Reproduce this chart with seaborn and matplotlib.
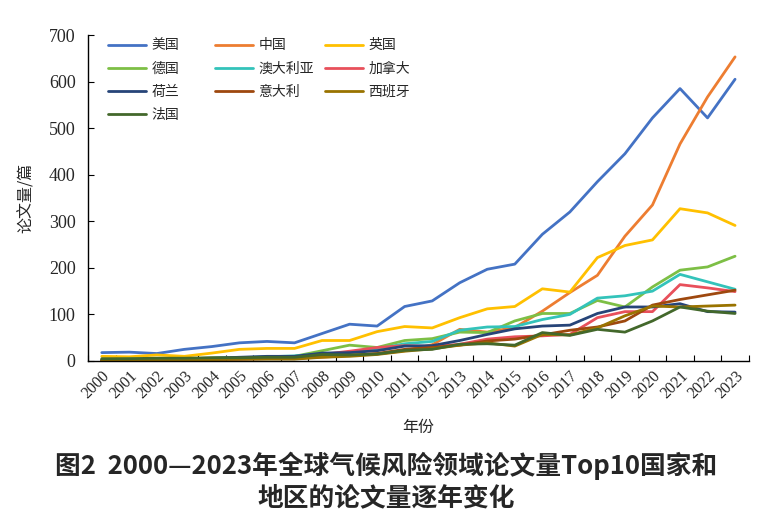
import numpy as np
import pandas as pd
import matplotlib
matplotlib.use("Agg")
import matplotlib.pyplot as plt
from matplotlib.ticker import MultipleLocator, FixedLocator
import seaborn as sns

years = list(range(2000, 2024))

usa = [18, 19, 16, 25, 31, 39, 42, 39, 59, 79, 75, 117, 129, 168, 197, 208, 272, 320, 385, 445, 522, 585, 522, 605]
china = [1, 1, 2, 2, 3, 4, 5, 6, 8, 12, 15, 22, 35, 68, 62, 72, 107, 147, 184, 268, 335, 466, 567, 653]
uk = [10, 9, 13, 10, 17, 25, 27, 27, 44, 44, 63, 74, 71, 93, 112, 117, 155, 148, 222, 248, 260, 327, 318, 291]
germany = [3, 4, 4, 5, 6, 7, 8, 10, 22, 34, 29, 44, 48, 62, 61, 86, 102, 102, 130, 116, 159, 195, 202, 225]
australia = [3, 4, 4, 5, 6, 7, 9, 11, 15, 18, 26, 37, 42, 66, 73, 74, 89, 100, 135, 140, 150, 186, 170, 154]
canada = [2, 3, 3, 4, 5, 6, 7, 8, 14, 21, 29, 33, 31, 36, 47, 52, 54, 57, 93, 106, 106, 164, 157, 149]
netherlands = [2, 3, 3, 5, 6, 8, 10, 10, 17, 18, 22, 32, 33, 44, 57, 69, 75, 77, 102, 116, 116, 123, 106, 105]
italy = [1, 2, 2, 3, 4, 4, 5, 5, 10, 12, 16, 25, 29, 34, 43, 47, 56, 66, 73, 86, 120, 132, 142, 152]
spain = [1, 1, 2, 2, 3, 4, 4, 4, 8, 10, 14, 21, 26, 34, 39, 32, 57, 56, 71, 97, 118, 116, 118, 120]
france = [5, 5, 6, 6, 7, 7, 8, 8, 14, 13, 15, 23, 25, 36, 37, 34, 61, 55, 68, 62, 86, 116, 107, 102]

countries = ["美国", "中国", "英国", "德国", "澳大利亚", "加拿大", "荷兰", "意大利", "西班牙", "法国"]
series = [usa, china, uk, germany, australia, canada, netherlands, italy, spain, france]
colors = ["#4472C4", "#ED7D31", "#FFC000", "#7DBF45", "#33C3BA", "#E8505B",
          "#264478", "#9E480E", "#997300", "#43682B"]

CN = ["Noto Sans CJK SC", "DejaVu Sans"]
SERIF = ["Liberation Serif", "DejaVu Serif"]


def main() -> None:
    sns.set_theme(style="ticks")
    plt.rcParams["font.family"] = CN

    rows = []
    for name, vals in zip(countries, series):
        for y, v in zip(years, vals):
            rows.append({"年份": y, "论文量": v, "国家": name})
    df = pd.DataFrame(rows)

    fig = plt.figure(figsize=(7.72, 5.28), dpi=100)
    ax = fig.add_axes([0.114, 0.3163, 0.856, 0.6174])

    sns.lineplot(data=df, x="年份", y="论文量", hue="国家", hue_order=countries,
                 palette=dict(zip(countries, colors)), linewidth=2.0, ax=ax)

    ax.set_xlim(1999.5, 2023.5)
    ax.set_ylim(0, 700)
    ax.yaxis.set_major_locator(MultipleLocator(100))
    ax.xaxis.set_major_locator(FixedLocator(years))
    ax.xaxis.set_minor_locator(FixedLocator([y + 0.5 for y in range(1999, 2024)]))
    ax.tick_params(axis="x", which="major", length=0, pad=5)
    ax.tick_params(axis="x", which="minor", direction="in", length=4, width=0.8, color="black")
    ax.tick_params(axis="y", direction="in", length=4, width=0.8, color="black", pad=9)
    ax.set_xticks(years)
    ax.set_xticklabels([str(y) for y in years], rotation=45, ha="right",
                       rotation_mode="anchor", family=SERIF, fontsize=11.5)
    for lab in ax.get_yticklabels():
        lab.set_family(SERIF)
        lab.set_fontsize(13)

    for side in ["top", "right"]:
        ax.spines[side].set_visible(False)
    for side in ["left", "bottom"]:
        ax.spines[side].set_color("black")
        ax.spines[side].set_linewidth(1.0)

    ax.set_xlabel("年份", fontsize=11.5, labelpad=12)
    ax.set_ylabel("论文量/篇", fontsize=11.5, labelpad=10)

    # excel style legend, rows first -> one legend per column
    handles, labels = ax.get_legend_handles_labels()
    ax.get_legend().remove()
    cols = [[0, 3, 6, 9], [1, 4, 7], [2, 5, 8]]
    xs = [0.012, 0.174, 0.340]
    legs = []
    for idx, x0 in zip(cols, xs):
        leg = ax.legend([handles[i] for i in idx], [labels[i] for i in idx],
                        loc="upper left", bbox_to_anchor=(x0, 1.028), frameon=False,
                        fontsize=10, handlelength=2.7, labelspacing=0.67,
                        handletextpad=0.4)
        legs.append(leg)
    for leg in legs[:-1]:
        ax.add_artist(leg)

    fig.text(0.5, 0.117, "图2  2000—2023年全球气候风险领域论文量Top10国家和",
             ha="center", va="center", fontsize=18.5, fontweight="bold")
    fig.text(0.5, 0.058, "地区的论文量逐年变化",
             ha="center", va="center", fontsize=18.5, fontweight="bold")

    fig.savefig("out.png", dpi=100)


if __name__ == "__main__":
    main()
